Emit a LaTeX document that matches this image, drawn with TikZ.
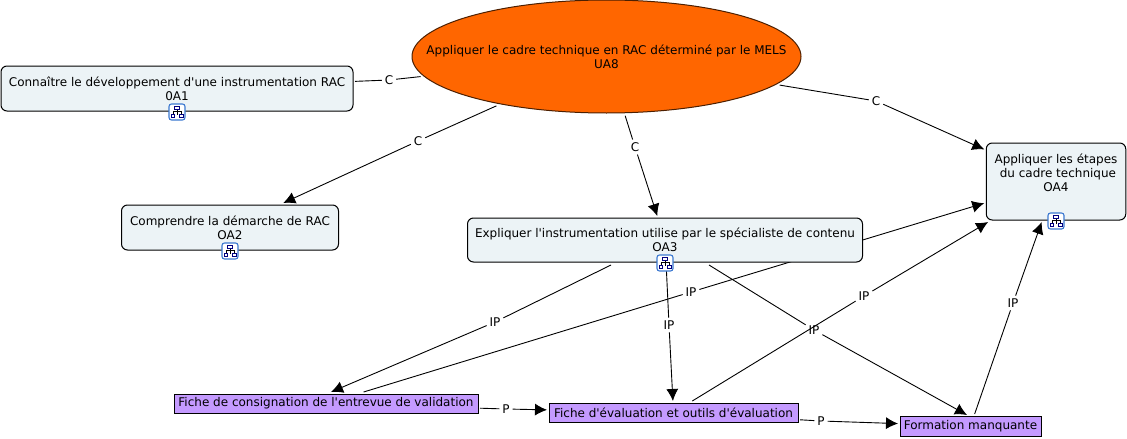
\documentclass[tikz,border=0pt]{standalone}
\usepackage{fontspec}
\setmainfont[Ligatures=TeXOff]{DejaVu Sans}
\usepackage{xcolor}
\usetikzlibrary{arrows.meta,backgrounds,shapes.geometric}
\definecolor{conceptfill}{HTML}{ECF3F6}
\definecolor{fichefill}{HTML}{C49AFF}
\definecolor{rootfill}{HTML}{FF6600}
\definecolor{iconblue}{HTML}{3B78D0}
\colorlet{navy}{blue!50!black}
\tikzset{
    concept/.style={draw=black,fill=conceptfill,rounded corners=6pt,line width=1pt,align=center,
        inner sep=0pt,outer sep=2pt,font=\fontsize{12}{13.8}\selectfont},
    fiche/.style={draw=black,fill=fichefill,line width=1pt,inner sep=0pt,outer sep=2pt,
        font=\fontsize{12}{13.8}\selectfont},
    root/.style={ellipse,draw=black!70!rootfill,fill=rootfill,line width=1pt,align=center,
        inner ysep=0pt,inner xsep=-45pt,outer sep=3pt,font=\fontsize{12}{13.8}\selectfont},
    linklabel/.style={inner sep=1pt,outer sep=2pt,font=\fontsize{12}{13.8}\selectfont},
    conn/.style={line width=0.9pt},
    connarrow/.style={line width=0.9pt,-{Latex[length=12pt,width=12pt]}},
    iconbox/.style={draw=iconblue,fill=white,rounded corners=2.5pt,line width=1.1pt,
        minimum width=16pt,minimum height=16pt,inner sep=0pt}
}
% small map icon below a concept
\newcommand{\mapicon}[2]{
    \node[iconbox] (#1) at (#2) {};
    \draw[black,line width=0.6pt] ([yshift=3pt]#1.center) -- ([yshift=-3pt]#1.center)
        ([shift={(-4pt,-3pt)}]#1.center) |- ([yshift=0.5pt]#1.center) -| ([shift={(4pt,-3pt)}]#1.center);
    \draw[navy,line width=0.7pt,fill=white] ([shift={(-2.5pt,2.5pt)}]#1.center) rectangle ([shift={(2.5pt,5.5pt)}]#1.center);
    \draw[navy,line width=0.7pt,fill=white] ([shift={(-6pt,-5.5pt)}]#1.center) rectangle ([shift={(-2.5pt,-2.5pt)}]#1.center);
    \draw[navy,line width=0.7pt,fill=white] ([shift={(2.5pt,-5.5pt)}]#1.center) rectangle ([shift={(6pt,-2.5pt)}]#1.center);
}
\begin{document}
\begin{tikzpicture}[x=1pt,y=-1pt]
    \useasboundingbox (0,0) rectangle (1127,439);

    % Concepts
    \node[root,minimum width=389pt,minimum height=113pt] (ua8) at (606.5,56.5)
        {Appliquer le cadre technique en RAC déterminé par le MELS\\UA8};
    \node[concept,minimum width=352pt,minimum height=45pt] (oa1) at (177,88.5)
        {Connaître le développement d'une instrumentation RAC\\0A1};
    \node[concept,minimum width=217pt,minimum height=45pt] (oa2) at (230,227.5)
        {Comprendre la démarche de RAC\\OA2};
    \node[concept,minimum width=395pt,minimum height=44pt] (oa3) at (665,240)
        {Expliquer l'instrumentation utilise par le spécialiste de contenu\\OA3};
    \node[concept,minimum width=139.5pt,minimum height=77pt] (oa4) at (1056,181.5)
        {Appliquer les étapes\\\ du cadre technique\\OA4\\[4pt]};

    % Fiches
    \node[fiche,minimum width=304pt,minimum height=19pt] (consign) at (326,403.5)
        {Fiche de consignation de l'entrevue de validation};
    \node[fiche,minimum width=249pt,minimum height=19pt] (eval) at (673.5,412.5)
        {Fiche d'évaluation et outils d'évaluation};
    \node[fiche,minimum width=141pt,minimum height=20pt] (manque) at (970.5,426)
        {Formation manquante};

    % Link labels
    \node[linklabel] (c1) at (389,80) {C};
    \node[linklabel] (c2) at (418,141) {C};
    \node[linklabel] (c3) at (635,147) {C};
    \node[linklabel] (c4) at (876,101) {C};
    \node[linklabel] (ip1) at (495,322) {IP};
    \node[linklabel] (ip2) at (691,292) {IP};
    \node[linklabel] (ip3) at (669,325) {IP};
    \node[linklabel] (ip4) at (814,330) {IP};
    \node[linklabel] (ip5) at (864,296) {IP};
    \node[linklabel] (ip6) at (1013,303) {IP};
    \node[linklabel] (p1) at (506,409) {P};
    \node[linklabel] (p2) at (821,421) {P};

    % Free ends
    \coordinate (oa3left) at (611,265);
    \coordinate (oa3right) at (709,265);
    \coordinate (consignin) at (331,392);
    \coordinate (manquein) at (967,415);

    % Connectors
    \begin{scope}[on background layer]
        \draw[conn] (ua8) -- (c1);
        \draw[conn] (c1) -- (oa1);
        \draw[conn] (ua8) -- (c2);
        \draw[connarrow] (c2) -- (oa2);
        \draw[conn] (ua8) -- (c3);
        \draw[connarrow] (c3) -- (oa3);
        \draw[conn] (ua8) -- (c4);
        \draw[connarrow] (c4) -- (oa4);
        \draw[conn] (oa3left) -- (ip1);
        \draw[connarrow] (ip1) -- (consignin);
        \draw[conn] (consign) -- (ip2);
        \draw[connarrow] (ip2) -- (oa4);
        \draw[conn] (oa3) -- (ip3);
        \draw[connarrow] (ip3) -- (eval);
        \draw[conn] (oa3right) -- (ip4);
        \draw[connarrow] (ip4) -- (manquein);
        \draw[conn] (eval) -- (ip5);
        \draw[connarrow] (ip5) -- (oa4);
        \draw[conn] (manque) -- (ip6);
        \draw[connarrow] (ip6) -- (oa4);
        \draw[conn] (consign) -- (p1);
        \draw[connarrow] (p1) -- (eval);
        \draw[conn] (eval) -- (p2);
        \draw[connarrow] (p2) -- (manque);
    \end{scope}

    % Icons
    \mapicon{icona}{177,112}
    \mapicon{iconb}{230,251}
    \mapicon{iconc}{665,263}
    \mapicon{icond}{1056,221}
\end{tikzpicture}
\end{document}
